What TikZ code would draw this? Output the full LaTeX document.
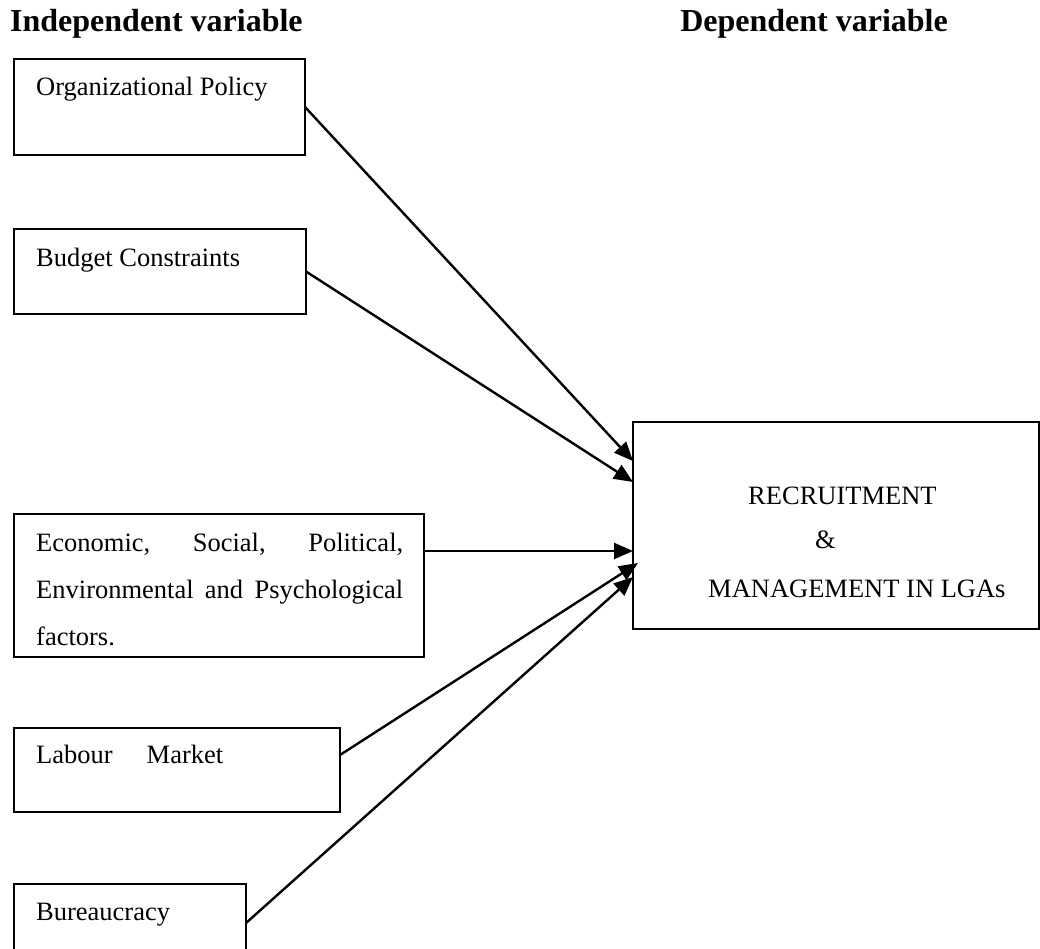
\documentclass[tikz,border=0pt]{standalone}
\usepackage{fontspec}
\setmainfont{Liberation Serif}
\usetikzlibrary{arrows.meta,calc}
\begin{document}
\begin{tikzpicture}[x=1pt,y=-1pt,
  vbox/.style={draw,rectangle,line width=2.2pt,anchor=north west,inner sep=0pt,outer sep=0pt},
  lbl/.style={anchor=base west,inner sep=0pt,font=\fontsize{26.5}{47}\selectfont},
  ttl/.style={inner sep=0pt,font=\fontsize{32}{38}\selectfont\bfseries},
  arr/.style={line width=2.4pt,-{Triangle[length=19pt,width=16pt]}}]
\useasboundingbox (0,0) rectangle (1040,949);
% titles
\node[ttl,anchor=base west] (tind) at (10,32) {Independent variable};
\node[ttl,anchor=base east] (tdep) at (948,32) {Dependent variable};
% boxes
\node[vbox,minimum width=291pt,minimum height=96pt] (org) at (14,59) {};
\node[vbox,minimum width=292pt,minimum height=85pt] (bud) at (14,229) {};
\node[vbox,minimum width=410pt,minimum height=143pt] (econ) at (14,514) {};
\node[vbox,minimum width=326pt,minimum height=84pt] (lab) at (14,728) {};
\node[vbox,minimum width=232pt,minimum height=80pt] (bur) at (14,884) {};
\node[vbox,minimum width=406pt,minimum height=207pt] (tgt) at (633,422) {};
% texts
\node[lbl] (torg) at (36,96) {Organizational Policy};
\node[lbl] (tbud) at (36,267) {Budget Constraints};
\node[lbl,text width=367pt,align=left] (tecon) at (36,551)
  {Economic,\hfill Social,\hfill Political,\\Environmental\hfill and\hfill Psychological\\factors.};
\node[lbl] (tlab) at (36,763) {Labour\hspace{34pt}Market};
\node[lbl] (tbur) at (36,920) {Bureaucracy};
\node[lbl] (trec) at (748,504) {RECRUITMENT};
\node[lbl] (tamp) at (815,548) {\&};
\node[lbl] (tman) at (708,597) {MANAGEMENT IN LGAs};
% arrows
\draw[arr] (org.east) -- ([yshift=-39pt]tgt.north west);
\draw[arr] (bud.east) -- ([yshift=-60pt]tgt.north west);
\draw[arr] ([yshift=-37pt]econ.north east) -- ([yshift=-129pt]tgt.north west);
\draw[arr] ([yshift=-27pt]lab.north east) -- ([xshift=5pt,yshift=-141pt]tgt.north west);
\draw[arr] ([yshift=-39pt]bur.north east) -- ([yshift=-155pt]tgt.north west);
\end{tikzpicture}
\end{document}
